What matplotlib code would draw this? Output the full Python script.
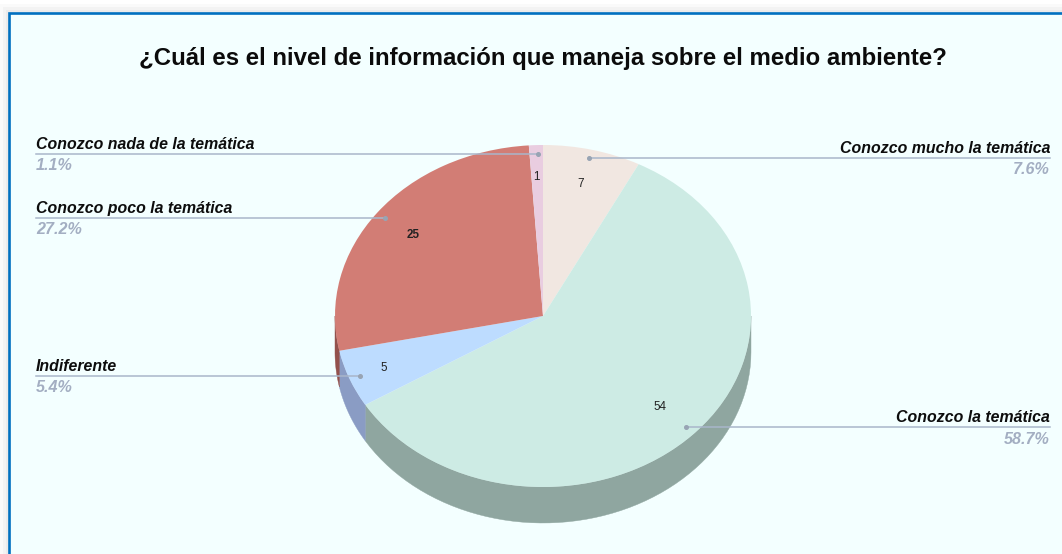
import numpy as np
import matplotlib
matplotlib.use('Agg')
import matplotlib.pyplot as plt
from matplotlib.patches import Rectangle, Polygon

# Data
categories = ['Conozco mucho la temática', 'Conozco la temática', 'Indiferente',
              'Conozco poco la temática', 'Conozco nada de la temática']
counts = [7, 54, 5, 25, 1]
percents = ['7.6%', '58.7%', '5.4%', '27.2%', '1.1%']
top_colors = ['#f1e7e1', '#cdebe4', '#bddcff', '#d27d75', '#e9cde0']
side_colors = ['#aaa29f', '#8fa6a0', '#8a9cc4', '#93514c', '#a38f9c']

# pie geometry in pixels
CX, CY, RX, RY = 543, 316, 208, 171
DEPTH = 36 / RY


def X(px):
    return (px - CX) / RX


def Y(py):
    return (CY - py) / RY


fig = plt.figure(figsize=(10.62, 5.54), dpi=100, facecolor='#ffffff')
ax = fig.add_axes([0, 0, 1, 1])

# page shadow and chart frame
for off, col in [(0, '#fafafa'), (3, '#f3f3f3'), (6, '#ebebeb')]:
    ax.add_patch(Rectangle((X(off), Y(554)), X(1070) - X(off), Y(off + 4) - Y(554),
                           fc=col, ec='none', zorder=0))
ax.add_patch(Rectangle((X(9), Y(570)), X(1090) - X(9), Y(12.5) - Y(570),
                       fc='#f3ffff', ec='#0070c0', lw=1.9, zorder=0.5))

# side wall of the pie, only the part facing the viewer
angles = 360 * np.cumsum([0] + counts) / sum(counts)
for i in range(len(counts)):
    a0 = max(angles[i], 90)
    a1 = min(angles[i + 1], 270)
    if a1 <= a0:
        continue
    t = np.radians(np.linspace(a0, a1, 60))
    xs = np.sin(t)
    ys = np.cos(t)
    pts = np.r_[np.c_[xs, ys], np.c_[xs, ys - DEPTH][::-1]]
    ax.add_patch(Polygon(pts, closed=True, fc=side_colors[i], ec=side_colors[i], lw=0.3, zorder=1))

ax.pie(counts, colors=top_colors, startangle=90, counterclock=False, radius=1, frame=True,
       wedgeprops={'linewidth': 0, 'zorder': 2})
ax.set_xlim(X(0), X(1062))
ax.set_ylim(Y(554), Y(0))
ax.set_aspect('auto')
ax.axis('off')

ax.text(X(543), Y(58), '¿Cuál es el nivel de información que maneja sobre el medio ambiente?',
        family='Liberation Sans', weight='bold', fontsize=17.25, color='#0b0b0b',
        ha='center', va='center', zorder=5)

# leader lines and outside labels, same order as categories
line_y = [158, 427, 376, 218, 154]
line_end = [589, 686, 360, 385, 538]
right_side = [True, True, False, False, False]
for i in range(len(categories)):
    edge = 1050 if right_side[i] else 36
    ha = 'right' if right_side[i] else 'left'
    ax.plot([X(edge), X(line_end[i])], [Y(line_y[i]), Y(line_y[i])], color='#a9b6ca', lw=1.1, zorder=3)
    ax.plot([X(line_end[i])], [Y(line_y[i])], 'o', color='#98a4b4', ms=2.6, zorder=3)
    ax.text(X(edge), Y(line_y[i] - 2), categories[i], family='Liberation Sans', style='italic',
            weight='bold', fontsize=11.45, color='#0d0d0d', ha=ha, va='bottom', zorder=5)
    ax.text(X(edge), Y(line_y[i] + 4.5), percents[i], family='Liberation Sans', style='italic',
            weight='bold', fontsize=11.6, color='#a3aec2', ha=ha, va='top', zorder=5)

# counts inside the slices
count_x = [581, 660, 384, 413, 536]
count_y = [184, 407, 368, 235, 177]
for i in range(len(counts)):
    ax.text(X(count_x[i]), Y(count_y[i]), str(counts[i]), family='Liberation Sans', fontsize=8.4,
            weight='bold' if counts[i] == 25 else 'normal', color='#222222',
            ha='center', va='center', zorder=5)

fig.savefig('out.png', dpi=100, facecolor=fig.get_facecolor())
